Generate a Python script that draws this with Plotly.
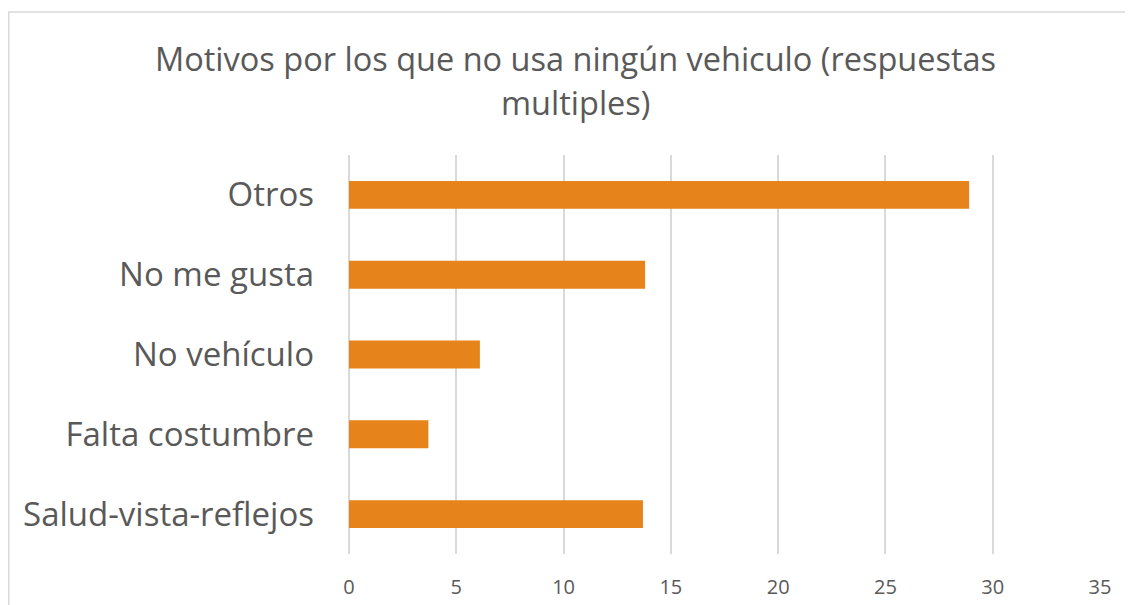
import plotly.graph_objects as go

categories = ["Salud-vista-reflejos", "Falta costumbre", "No vehículo", "No me gusta", "Otros"]
values = [13.7, 3.7, 6.1, 13.8, 28.9]
x_ticks = [0, 5, 10, 15, 20, 25, 30, 35]
title_lines = ["Motivos por los que no usa ningún vehiculo (respuestas", "multiples)"]

# page has an 8px body margin; the figure is sized so it fills the window
W, H = 1125, 597
L, R, T, B = 341, 33, 147, 51
pw = W - L - R
ph = H - T - B

fig = go.Figure(go.Bar(
    x=values, y=categories, orientation="h",
    marker=dict(color="#E6831A", line=dict(width=0)),
    width=0.35,
))

text_col = "#595959"
grid_col = "#D9D9D9"

title_y = [50, 94]  # figure pixel centers of each title line
annotations = [
    dict(text=t, xref="paper", yref="paper",
         x=(567 - L) / pw, y=(H - B - yy) / ph,
         xanchor="center", yanchor="middle", showarrow=False,
         font=dict(size=32.5, color=text_col))
    for t, yy in zip(title_lines, title_y)
]

fig.update_layout(
    width=W, height=H,
    margin=dict(l=L, r=R, t=T, b=B),
    paper_bgcolor="white", plot_bgcolor="white",
    font=dict(family="Open Sans, Liberation Sans, sans-serif", color=text_col),
    annotations=annotations,
    xaxis=dict(
        range=[0, 35], tickvals=x_ticks, ticktext=[str(t) for t in x_ticks],
        showgrid=True, gridcolor=grid_col, gridwidth=1.5,
        zeroline=True, zerolinecolor=grid_col, zerolinewidth=1.5,
        showline=False, ticks="",
        tickfont=dict(size=20, color=text_col),
        ticklabelstandoff=19, automargin=False,
    ),
    yaxis=dict(
        categoryorder="array", categoryarray=categories,
        showgrid=False, zeroline=False, showline=False, ticks="",
        tickfont=dict(size=33, color=text_col),
        ticklabelstandoff=34, automargin=False,
    ),
    showlegend=False,
    shapes=[dict(
        type="rect", xref="paper", yref="paper",
        x0=(0.75 - L) / pw, x1=1.5, y0=-0.5, y1=(H - B - 4) / ph,
        line=dict(color=grid_col, width=1.5), fillcolor="rgba(0,0,0,0)",
        layer="below",
    )],
)

fig.write_html("out.html")
